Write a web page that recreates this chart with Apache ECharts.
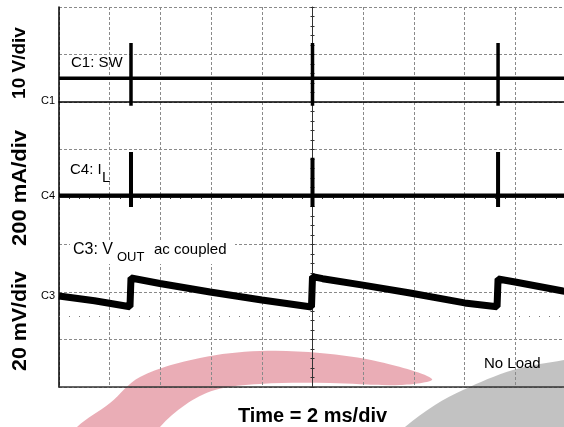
<!DOCTYPE html>
<html>
<head>
<meta charset="utf-8">
<script src="https://cdn.jsdelivr.net/npm/echarts@6/dist/echarts.min.js"></script>
<style>
html, body { margin: 0; padding: 0; background: #fff; }
#scope { width: 564px; height: 427px; }
</style>
</head>
<body>
<div id="scope"></div>
<script>
// time base: 2 ms/div, 10 divisions
var timeMin = 0;
var timeMax = 20;
var timeStep = 2;
// switching events, ms
var pulseTimes = [2.84, 10.0, 17.32];

// C1: SW, volts (10 V/div, ground marker at div 6)
var swLevel = 5;
var swPeak = [12.4, 12.4, 12.4];
var swDip = [-0.8, -0.8, -0.8];

// C4: I_L, mA (200 mA/div, zero marker at div 4)
var ilLevel = 6;
var ilPeak = [190, 165, 190];
var ilDip = [-42, -42, -42];

// C3: V_OUT ac coupled, mV (20 mV/div, zero marker at div 2)
var voutTime = [0, 1.4, 2.80, 2.84, 3.98, 5.96, 8.0, 9.96, 10.0, 10.4, 11.99, 13.85, 16.0, 17.28, 17.32, 17.99, 19.88, 20];
var voutMv = [-1.7, -3.7, -6.2, 5.9, 3.6, 0.0, -3.4, -6.3, 6.5, 5.6, 2.9, -0.4, -4.6, -6.2, 5.5, 4.2, 0.4, 0.2];
var voutMarkMv = -10;

var FONT = 'Arial, "Liberation Sans", sans-serif';

function pulseTrace(level, peaks, dips) {
  var pts = [[timeMin, level]];
  for (var i = 0; i < pulseTimes.length; i++) {
    var t = pulseTimes[i];
    pts.push([t, level], [t, peaks[i]], [t, dips[i]], [t, level]);
  }
  pts.push([timeMax, level]);
  return pts;
}

var voutData = voutTime.map(function (t, i) { return [t, voutMv[i]]; });

var gridDash = { color: '#8a8a8a', type: [3, 2], width: 1 };

function label(x, y, text, font, align) {
  return { type: 'text', x: x, y: y, z: 10,
    style: { text: text, font: font + ' ' + FONT, fill: '#000', align: align || 'left', verticalAlign: 'middle' } };
}

var chart = echarts.init(document.getElementById('scope'));
chart.setOption({
  animation: false,
  backgroundColor: '#fff',
  grid: { left: 59, top: 7, width: 507, height: 380, outerBoundsMode: 'none' },
  xAxis: [
    {
      type: 'value', min: timeMin, max: timeMax, interval: timeStep,
      axisLine: { show: true, lineStyle: { color: '#333', width: 1.5 } },
      axisTick: { show: false }, axisLabel: { show: false },
      splitLine: { show: true, lineStyle: gridDash },
      name: 'Time = 2 ms/div', nameLocation: 'middle', nameGap: 19,
      nameTextStyle: { fontFamily: FONT, fontWeight: 'bold', fontSize: 20, color: '#000' }
    },
    {
      type: 'value', position: 'top', min: timeMin, max: timeMax,
      axisLine: { show: true, lineStyle: { color: '#000', width: 1.5 } },
      axisTick: { show: false }, axisLabel: { show: false }, splitLine: { show: false }
    },
    {
      type: 'value', position: 'bottom', offset: -190, min: timeMin, max: timeMax, interval: 0.4,
      axisLine: { show: true, lineStyle: { color: '#333' } },
      axisTick: { show: true, length: 2, lineStyle: { color: '#333' } },
      axisLabel: { show: false }, splitLine: { show: false }
    },
    {
      type: 'value', position: 'bottom', offset: -190, min: timeMin, max: timeMax, interval: 0.4,
      axisLine: { show: false },
      axisTick: { show: true, inside: true, length: 2, lineStyle: { color: '#333' } },
      axisLabel: { show: false }, splitLine: { show: false }
    }
  ],
  yAxis: [
    {
      type: 'value', min: 0, max: 8, interval: 1,
      axisLine: { show: true, lineStyle: { color: '#000', width: 1.5 } },
      axisTick: { show: false }, axisLabel: { show: false },
      splitLine: { show: true, lineStyle: gridDash }
    },
    { type: 'value', show: false, min: -60, max: 20 },
    { type: 'value', show: false, min: -800, max: 800 },
    { type: 'value', show: false, min: -40, max: 120 },
    {
      type: 'value', position: 'left', offset: -253.5, min: 0, max: 8, interval: 0.2,
      axisLine: { show: true, lineStyle: { color: '#333' } },
      axisTick: { show: true, length: 2, lineStyle: { color: '#333' } },
      axisLabel: { show: false }, splitLine: { show: false }
    },
    {
      type: 'value', position: 'left', offset: -253.5, min: 0, max: 8, interval: 0.2,
      axisLine: { show: false },
      axisTick: { show: true, inside: true, length: 2, lineStyle: { color: '#333' } },
      axisLabel: { show: false }, splitLine: { show: false }
    }
  ],
  series: [
    {
      name: 'C1', type: 'line', z: 4, xAxisIndex: 0, yAxisIndex: 1,
      data: pulseTrace(swLevel, swPeak, swDip),
      showSymbol: false, silent: true,
      lineStyle: { color: '#000', width: 3.5 }
    },
    {
      name: 'C4', type: 'line', z: 4, xAxisIndex: 0, yAxisIndex: 2,
      data: pulseTrace(ilLevel, ilPeak, ilDip),
      showSymbol: false, silent: true,
      lineStyle: { color: '#000', width: 4 }
    },
    {
      name: 'C3', type: 'line', z: 4, xAxisIndex: 0, yAxisIndex: 3,
      data: voutData,
      showSymbol: false, silent: true,
      lineStyle: { color: '#000', width: 7 },
      markLine: {
        silent: true, symbol: 'none', label: { show: false },
        lineStyle: { color: '#777', type: [1, 9], width: 1 },
        data: [{ yAxis: voutMarkMv }]
      }
    }
  ],
  graphic: [
    // translucent watermark swooshes, grid shows through
    {
      type: 'polygon', silent: true,
      shape: {
        smooth: 0.35,
        points: [[60, 450], [77, 427], [110, 403], [140, 377], [200, 358], [260, 351], [320, 353], [380, 362], [432, 379],
                 [400, 385], [330, 383], [260, 384], [215, 390], [185, 405], [160, 427], [145, 450]]
      },
      style: { fill: '#c8283f', opacity: 0.38 }
    },
    {
      type: 'polygon', silent: true,
      shape: {
        smooth: 0.35,
        points: [[380, 450], [405, 427], [435, 405], [463, 390], [513, 370], [564, 360], [620, 350], [650, 470]]
      },
      style: { fill: '#666666', opacity: 0.4 }
    },
    // vertical scale labels
    { type: 'text', x: 20, y: 63, rotation: Math.PI / 2, z: 10,
      style: { text: '10 V/div', font: 'bold 19px ' + FONT, fill: '#000', align: 'center', verticalAlign: 'middle' } },
    { type: 'text', x: 20, y: 188, rotation: Math.PI / 2, scaleX: 1.1, z: 10,
      style: { text: '200 mA/div', font: 'bold 20px ' + FONT, fill: '#000', align: 'center', verticalAlign: 'middle' } },
    { type: 'text', x: 20, y: 321, rotation: Math.PI / 2, scaleX: 1.07, z: 10,
      style: { text: '20 mV/div', font: 'bold 20px ' + FONT, fill: '#000', align: 'center', verticalAlign: 'middle' } },
    // channel markers
    label(55, 101, 'C1', '11px', 'right'),
    label(55, 196, 'C4', '11px', 'right'),
    label(55, 296, 'C3', '11px', 'right'),
    // trace annotations
    label(71, 63, 'C1: SW', '15px'),
    label(70, 170, 'C4: I', '15px'),
    label(102, 178, 'L', '15px'),
    { type: 'rect', z: 9, shape: { x: 70, y: 240, width: 165, height: 24 }, style: { fill: '#fff' } },
    label(73, 250, 'C3: V', '16px'),
    label(117, 257, 'OUT', '13px'),
    label(154, 250, 'ac coupled', '15px'),
    label(484, 364, 'No Load', '15px')
  ]
});
</script>
</body>
</html>
